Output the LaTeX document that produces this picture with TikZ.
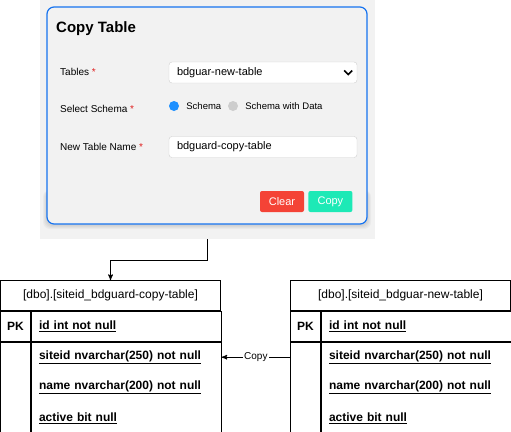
\documentclass[tikz,border=0pt]{standalone}
\usepackage{fontspec}
\setmainfont{Liberation Sans}
\usepackage{tikz}
\usetikzlibrary{calc,arrows,positioning}

\definecolor{panelgray}{HTML}{F2F2F2}
\definecolor{cardblue}{HTML}{1673F0}
\definecolor{reqred}{HTML}{E02020}
\definecolor{radblue}{HTML}{1E90FF}
\definecolor{radgray}{HTML}{CDCDCD}
\definecolor{clearred}{HTML}{F44336}
\definecolor{copygreen}{HTML}{1DE9B6}
\definecolor{fieldline}{HTML}{D0D0D0}

\newcommand{\fsTab}{\fontsize{12pt}{14pt}\selectfont}
\newcommand{\fsLbl}{\fontsize{10pt}{12pt}\selectfont}
\newcommand{\fsOpt}{\fontsize{9.5pt}{11pt}\selectfont}
\newcommand{\fsFld}{\fontsize{11pt}{13pt}\selectfont}
\newcommand{\reqmark}{\textcolor{reqred}{*}}

\begin{document}
\begin{tikzpicture}[x=1pt,y=-1pt,
	shot/.style={rectangle,fill=panelgray,inner sep=0pt,minimum width=335pt,minimum height=239pt},
	card/.style={rectangle,draw=cardblue,line width=1.2pt,fill=panelgray,rounded corners=7pt,inner sep=0pt,minimum width=320pt,minimum height=217pt},
	lbl/.style={anchor=west,inner sep=0pt,font=\fsLbl},
	opt/.style={inner sep=0pt,font=\fsOpt},
	field/.style={rectangle,draw=fieldline,fill=white,rounded corners=3pt,minimum height=21pt,inner xsep=8pt,inner ysep=0pt,text width=172pt,align=left,font=\fsFld},
	radio/.style={circle,inner sep=0pt,minimum size=10pt},
	btn/.style={rectangle,rounded corners=2pt,inner sep=0pt,minimum width=44pt,minimum height=21pt,text=white,font=\fsFld},
	hdr/.style={rectangle,draw,line width=1pt,inner sep=0pt,minimum width=220pt,minimum height=30pt,font=\fsTab},
	pkcell/.style={rectangle,draw,line width=1pt,inner sep=0pt,minimum width=30pt,minimum height=30pt,font=\fsTab\bfseries},
	blank/.style={rectangle,draw,line width=1pt,inner sep=0pt,minimum width=30pt,minimum height=90pt},
	row/.style={rectangle,inner xsep=7.5pt,inner ysep=0pt,text width=175pt,minimum height=30pt,align=left,font=\fsTab\bfseries},
	keyrow/.style={row,draw,line width=1pt},
	copylbl/.style={fill=white,inner sep=1pt,font=\fsLbl},
	paths/.style={->, line width=1pt, >=stealth'}
	]
\tikzset{frame/.style={draw,line width=1pt}}
\useasboundingbox (0,0) rectangle (511,431);

\node[shot](shot) at (207.5,119.5) {};
\foreach \d in {1,2,3,4}
	\fill[black,opacity=0.03,rounded corners=7pt] (47-\d,190) rectangle (367+\d,224+\d+1);
\node[card](card) at (207,115.5) {};

\node[anchor=west,inner sep=0pt,font=\fontsize{15pt}{18pt}\selectfont\bfseries](title) at (56,29) {Copy Table};

\node[lbl](lTab) at (60,72) {Tables \reqmark};
\node[lbl](lSch) at (60,109) {Select Schema \reqmark};
\node[lbl](lNew) at (60,147) {New Table Name \reqmark};

\node[field](tabsel) at (263,72.5) {bdguar-new-table};
\draw[line width=1.6pt] ([xshift=-13pt,yshift=2pt]tabsel.east) -- ++(4,4) -- ++(4,-4);

\node[radio,fill=radblue](rSchema) at (174,106) {};
\node[opt](tSchema) [right = 7pt of rSchema] {Schema};
\node[radio,fill=radgray](rData) at (233,106) {};
\node[opt](tData) [right = 7pt of rData] {Schema with Data};

\node[field](newname) at (263,147) {bdguard-copy-table};

\node[btn,fill=clearred](bClear) at (282,201.5) {Clear};
\node[btn,fill=copygreen](bCopy) [right = 4pt of bClear] {Copy};

\node[hdr](hdA) at (110.5,295.5) {[dbo].[siteid\_bdguard-copy-table]};
\node[pkcell](pkA) [below right = 0pt of hdA.south west] {PK};
\node[keyrow](idA) [right = 0pt of pkA] {\underline{id int not null}};
\node[blank](blankA) [below = 0pt of pkA] {};
\node[row](siteA) [below = 0pt of idA] {\underline{siteid nvarchar(250) not null}};
\node[row](nameA) [below = 0pt of siteA] {\underline{name nvarchar(200) not null}};
\node[row](actA) [below = 0pt of nameA] {\underline{active bit null}};
\draw[frame] (siteA.north west) rectangle (actA.south east);

\node[hdr](hdB) at (400.5,295.5) {[dbo].[siteid\_bdguar-new-table]};
\node[pkcell](pkB) [below right = 0pt of hdB.south west] {PK};
\node[keyrow](idB) [right = 0pt of pkB] {\underline{id int not null}};
\node[blank](blankB) [below = 0pt of pkB] {};
\node[row](siteB) [below = 0pt of idB] {\underline{siteid nvarchar(250) not null}};
\node[row](nameB) [below = 0pt of siteB] {\underline{name nvarchar(200) not null}};
\node[row](actB) [below = 0pt of nameB] {\underline{active bit null}};
\draw[frame] (siteB.north west) rectangle (actB.south east);

\draw[paths](shot.south) -- ++(0,21) -| (hdA.north);
\draw[paths](blankB.west |- siteB.center) -- node[copylbl]{Copy} (siteA.east);
\end{tikzpicture}
\end{document}
